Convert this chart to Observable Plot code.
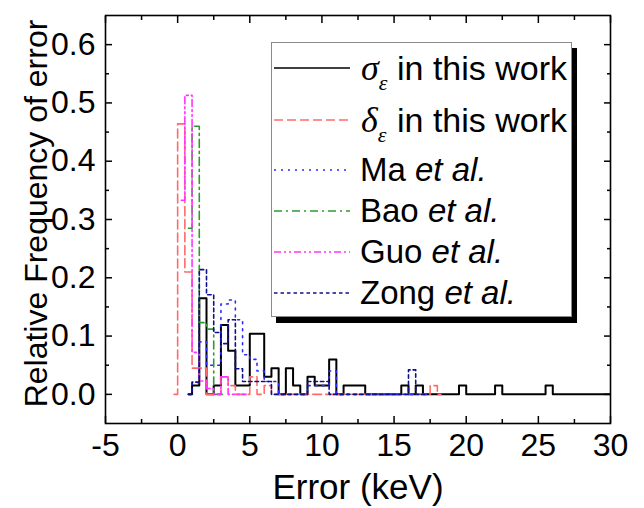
<!DOCTYPE html>
<html><head><meta charset="utf-8">
<script src="https://cdn.jsdelivr.net/npm/d3@7"></script>
<script src="https://cdn.jsdelivr.net/npm/@observablehq/plot@0.6"></script>
<style>
body{margin:0;background:#fff;}
#wrap{position:relative;width:644px;height:508px;font-family:"Liberation Sans",Arial,sans-serif;}
#wrap svg{display:block;}
#leg{position:absolute;left:0;top:0;}
</style></head><body><div id="wrap"></div>
<script>
// bin centers (keV) and relative frequencies
const sigmaX = [0.75,1.25,1.75,2.25,2.75,3.25,3.75,4.25,4.75,5.25,5.75,6.25,6.75,7.25,7.75,8.25,8.75,9.25,9.75,10.25,10.75,11.25,11.75,12.25,12.75,13.25,15.25,15.75,16.25,16.75,17.25,19.25,19.75,20.25,21.75,22.25,22.75,25.25,25.75,26.25,30.25];
const sigmaY = [0,0.015,0.165,0,0.015,0.119,0.075,0.015,0.015,0.104,0.104,0.03,0.045,0,0.045,0.015,0,0.03,0.015,0.015,0.06,0,0.015,0.015,0.015,0,0,0.015,0,0.015,0,0,0.015,0,0,0.015,0,0,0.015,0,0];
const deltaX = [-0.25,0.25,0.75,1.25,1.75,2.25,2.75,3.25,3.75,4.25,4.75,5.25,5.75,6.25,6.75,17.25,17.75,18.25];
const deltaY = [0,0.464,0.21,0.045,0.045,0,0,0.03,0.015,0,0,0.03,0,0.015,0,0,0.015,0];
const maX = [0.75,1.25,1.75,2.25,2.75,3.25,3.75,4.25,4.75,5.25,5.75,6.25,6.75,7.25,8.75,9.25,9.75,10.25,10.75,11.25,17.25];
const maY = [0,0.02,0.09,0.05,0.05,0.155,0.162,0.128,0.068,0.06,0.04,0.022,0.022,0,0,0.015,0.015,0.015,0.04,0,0];
const baoX = [0.75,1.25,1.75,2.25,2.75,3.25];
const baoY = [0.285,0.46,0.123,0.112,0,0];
const guoX = [0.25,0.75,1.25,1.75,2.25,2.75,3.25,3.75,4.75];
const guoY = [0.333,0.513,0.072,0.023,0.01,0,0.03,0,0];
const zongX = [0.75,1.25,1.75,2.25,2.75,3.25,3.75,4.25,4.75,5.25,5.75,6.25,6.75,8.75,9.25,9.75,10.25,10.75,15.75,16.25,16.75,17.25];
const zongY = [0,0.021,0.214,0.171,0.106,0.087,0.128,0.044,0.022,0.022,0.022,0.022,0,0,0.022,0.022,0.022,0,0,0.042,0,0];

const seriesNames = ["sigma","delta","Ma","Bao","Guo","Zong"];
const seriesColors = ["#000000","#ff6b6b","#2b2bff","#2f9a2f","#ff33ff","#10108a"];
const seriesDash = [null,"9,4","2,5","8,4,2,4","7,3,2,3,2,3","3.5,3"];
const seriesWidth = [2,1.6,1.6,1.6,1.6,1.6];
const seriesXs = [sigmaX,deltaX,maX,baoX,guoX,zongX];
const seriesYs = [sigmaY,deltaY,maY,baoY,guoY,zongY];

const xTicks = [-5,0,5,10,15,20,25,30];
const xMinor = [-2.5,2.5,7.5,12.5,17.5,22.5,27.5];
const yTicks = [0,0.1,0.2,0.3,0.4,0.5,0.6];
const yMinor = [0.05,0.15,0.25,0.35,0.45,0.55];

const xLabel = "Error (keV)";
const yLabel = "Relative Frequency of error";

const lineMarks = seriesNames.map((name,i) => {
  const rows = seriesXs[i].map((x,j) => ({x, y: seriesYs[i][j]}));
  return Plot.lineY(rows, {x:"x", y:"y", curve:"step", stroke: seriesColors[i],
    strokeWidth: seriesWidth[i], strokeDasharray: seriesDash[i], clip: true});
});

const noText = () => "";
const plot = Plot.plot({
  width: 644, height: 508,
  marginLeft: 105, marginRight: 34, marginTop: 15, marginBottom: 85,
  style: {fontFamily: "'Liberation Sans', Arial, sans-serif", fontSize: "32px", color: "#000", background: "#fff", overflow: "visible"},
  x: {domain: [-5, 30]},
  y: {domain: [-0.05, 0.65]},
  marks: [
    ...lineMarks,
    Plot.axisX({anchor:"bottom", ticks: xTicks, tickSize: 0, tickPadding: 10, tickFormat: d => String(d), label: null}),
    Plot.axisY({anchor:"left", ticks: yTicks, tickSize: 0, tickPadding: 10, tickFormat: d3.format(".1f"), label: null}),
    Plot.axisX({anchor:"bottom", ticks: xTicks, tickSize: -7, tickFormat: noText, label: null, strokeWidth: 1.5}),
    Plot.axisX({anchor:"top", ticks: xTicks, tickSize: -7, tickFormat: noText, label: null, strokeWidth: 1.5}),
    Plot.axisX({anchor:"bottom", ticks: xMinor, tickSize: -4, tickFormat: noText, label: null, strokeWidth: 1.5}),
    Plot.axisX({anchor:"top", ticks: xMinor, tickSize: -4, tickFormat: noText, label: null, strokeWidth: 1.5}),
    Plot.axisY({anchor:"left", ticks: yTicks, tickSize: -7, tickFormat: noText, label: null, strokeWidth: 1.5}),
    Plot.axisY({anchor:"right", ticks: yTicks, tickSize: -7, tickFormat: noText, label: null, strokeWidth: 1.5}),
    Plot.axisY({anchor:"left", ticks: yMinor, tickSize: -4, tickFormat: noText, label: null, strokeWidth: 1.5}),
    Plot.axisY({anchor:"right", ticks: yMinor, tickSize: -4, tickFormat: noText, label: null, strokeWidth: 1.5}),
    Plot.frame({stroke: "#000", strokeWidth: 1.6}),
    Plot.text([xLabel], {text: d => d, frameAnchor: "bottom", dy: 64, lineAnchor: "middle", textAnchor: "middle", fontSize: 35}),
    Plot.text([yLabel], {text: d => d, frameAnchor: "left", dx: -69, dy: -6, rotate: -90, lineAnchor: "middle", textAnchor: "middle", fontSize: 32})
  ]
});
const wrap = document.getElementById("wrap");
wrap.appendChild(plot);

// legend
const legLabels = [
  {sym: "σ", rest: "in this work"},
  {sym: "δ", rest: "in this work"},
  {name: "Ma", it: "et al."},
  {name: "Bao", it: "et al."},
  {name: "Guo", it: "et al."},
  {name: "Zong", it: "et al."}
];
const rowY = [68, 120, 170, 211, 252, 293];
const leg = d3.select(wrap).append("svg").attr("id","leg").attr("width",644).attr("height",508)
  .style("font-family","'Liberation Sans', Arial, sans-serif");
leg.append("rect").attr("x",276).attr("y",48).attr("width",301).attr("height",275).attr("fill","#000");
leg.append("rect").attr("x",271.5).attr("y",42.5).attr("width",300).attr("height",274).attr("fill","#fff").attr("stroke","#8a8a8a").attr("stroke-width",1);
legLabels.forEach((d,i) => {
  const y = rowY[i];
  leg.append("line").attr("x1",274).attr("x2",350).attr("y1",y).attr("y2",y)
    .attr("stroke",seriesColors[i]).attr("stroke-width",i===0?1.4:1.5)
    .attr("stroke-dasharray",seriesDash[i]);
  if (d.sym) {
    const t = leg.append("text").attr("y", y + 12).attr("font-size",34);
    t.append("tspan").attr("x",361).attr("font-family","'Liberation Serif', 'Times New Roman', serif").attr("font-style","italic").attr("font-size",36).text(d.sym);
    t.append("tspan").attr("font-family","'Liberation Serif', 'Times New Roman', serif").attr("font-style","italic").attr("font-size",22).attr("dy",10).text("ε");
    t.append("tspan").attr("x",397).attr("dy",-10).text(d.rest);
  } else {
    const t = leg.append("text").attr("x",360).attr("y", y + 11).attr("font-size",33);
    t.append("tspan").text(d.name + " ");
    t.append("tspan").attr("font-style","italic").text(d.it);
  }
});
</script></body></html>
